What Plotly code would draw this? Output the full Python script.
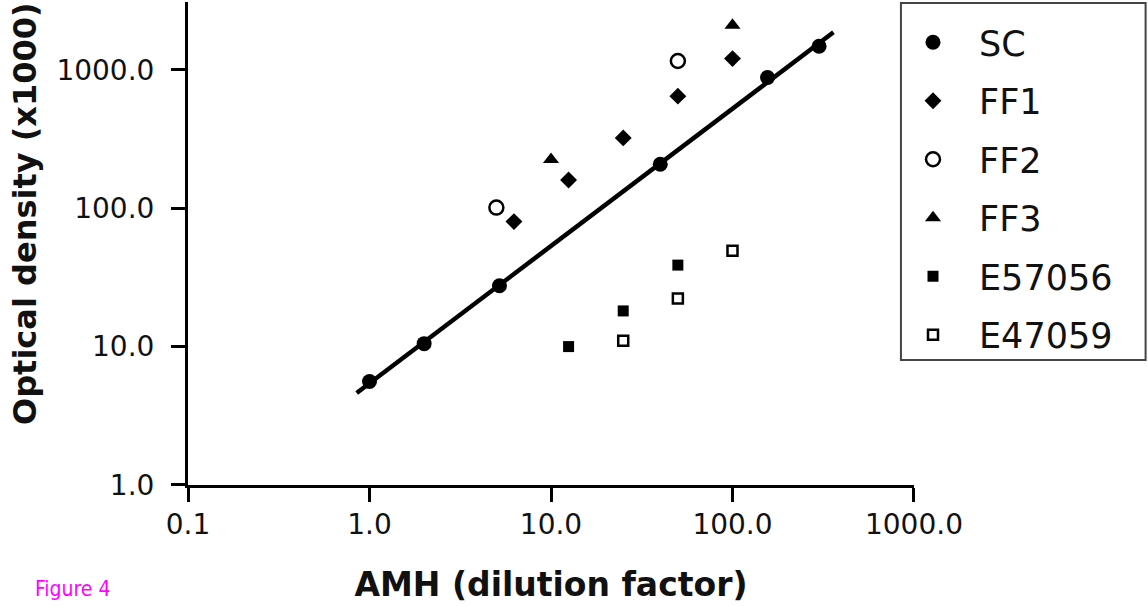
import numpy as np
import plotly.graph_objects as go

# ---- data ----
sc_x = [1.0, 2.0, 5.2, 40.0, 156.0, 300.0]
sc_y = [5.6, 10.5, 27.5, 208.0, 880.0, 1480.0]

ff1_x = [6.25, 12.5, 25.0, 50.0, 100.0]
ff1_y = [80.0, 160.0, 322.0, 645.0, 1205.0]

ff2_x = [5.0, 50.0]
ff2_y = [101.0, 1158.0]

ff3_x = [10.0, 100.0]
ff3_y = [225.0, 2095.0]

e57056_x = [12.5, 25.0, 50.0]
e57056_y = [10.0, 18.1, 38.8]

e47059_x = [25.0, 50.0, 100.0]
e47059_y = [11.0, 22.3, 49.2]

fit_x_extent = [0.85, 360.0]   # span of the drawn regression line

x_tickvals = [0.1, 1, 10, 100, 1000]
x_ticktext = ["0.1", "1.0", "10.0", "100.0", "1000.0"]
y_tickvals = [1, 10, 100, 1000]
y_ticktext = ["1.0", "10.0", "100.0", "1000.0"]

# ---- regression line of SC in log-log space ----
slope, intercept = np.polyfit(np.log10(sc_x), np.log10(sc_y), 1)
fit_x = np.array(fit_x_extent)
fit_y = 10 ** (intercept + slope * np.log10(fit_x))

BLACK = "#000000"
TXT = "#111111"
FONT = "DejaVu Sans"

fig = go.Figure()

fig.add_trace(go.Scatter(x=fit_x, y=fit_y, mode="lines",
                         line=dict(color=BLACK, width=4.5),
                         showlegend=False, hoverinfo="skip"))

series = [
    ("SC", sc_x, sc_y, dict(symbol="circle", size=15, color=BLACK)),
    ("FF1", ff1_x, ff1_y, dict(symbol="diamond", size=13, color=BLACK)),
    ("FF2", ff2_x, ff2_y, dict(symbol="circle-open", size=14, color=BLACK,
                               line=dict(width=2.5, color=BLACK))),
    ("FF3", ff3_x, ff3_y, dict(symbol="triangle-up", size=14, color=BLACK)),
    ("E57056", e57056_x, e57056_y, dict(symbol="square", size=11, color=BLACK)),
    ("E47059", e47059_x, e47059_y, dict(symbol="square-open", size=10, color=BLACK,
                                        line=dict(width=2.5, color=BLACK))),
]
for name, xs, ys, mk in series:
    fig.add_trace(go.Scatter(x=xs, y=ys, mode="markers", name=name,
                             legendgroup=name, marker=mk))

axis_common = dict(
    type="log", showgrid=False, zeroline=False, showline=True,
    linecolor=BLACK, linewidth=3, ticks="outside", ticklen=14,
    tickwidth=3, tickcolor=BLACK, mirror=False,
    tickfont=dict(family=FONT, size=28, color=TXT),
)

fig.update_xaxes(**axis_common, range=[-1.0001, 3.0001],
                 tickvals=x_tickvals, ticktext=x_ticktext,
                 ticklabelstandoff=-2,
                 title=dict(text="<b>AMH (dilution factor)</b>",
                            font=dict(family=FONT, size=33, color=TXT),
                            standoff=34))
fig.update_yaxes(**axis_common, range=[-0.0001, 3.49],
                 tickvals=y_tickvals, ticktext=y_ticktext,
                 ticklabelstandoff=11)

# y-axis title (placed above the axis centre, as in the reference)
fig.add_annotation(text="<b>Optical density (x1000)</b>", xref="paper", yref="paper",
                   x=(25 - 188) / 726, y=(485 - 214) / 483, textangle=-90,
                   xanchor="center", yanchor="middle", showarrow=False,
                   font=dict(family=FONT, size=32, color=TXT))

fig.add_shape(type="rect", xref="paper", yref="paper",
              x0=0.982, x1=1.319, y0=0.2588, y1=0.998,
              line=dict(color="#444444", width=2), fillcolor="rgba(0,0,0,0)")

fig.add_annotation(text="Figure 4", xref="paper", yref="paper",
                   x=(33 - 188) / 726, y=(485 - 589) / 483,
                   xanchor="left", yanchor="middle", showarrow=False,
                   font=dict(family="Liberation Sans Narrow, DejaVu Sans Condensed, Liberation Sans",
                             size=21, color="#FF00FF"))

fig.update_layout(
    width=1148, height=606,
    margin=dict(l=188, r=234, t=2, b=121),
    paper_bgcolor="white", plot_bgcolor="white",
    legend=dict(x=(887 - 188) / 726, y=(485 - 13) / 483,
                xanchor="left", yanchor="top",
                font=dict(family=FONT, size=35, color=TXT),
                itemwidth=82, tracegroupgap=10,
                bgcolor="rgba(0,0,0,0)", borderwidth=0),
)

fig.write_html("out.html", config={"displayModeBar": False},
               post_script="document.body.style.margin='0px';")
